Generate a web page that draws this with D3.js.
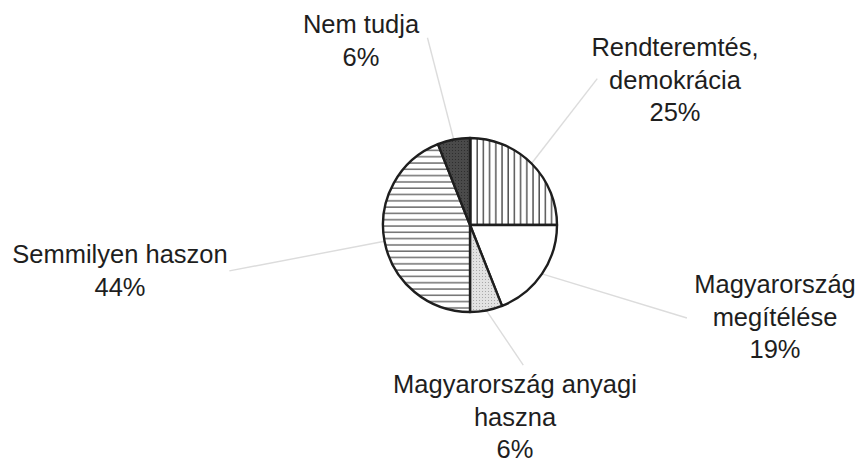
<!DOCTYPE html>
<html>
<head>
<meta charset="utf-8">
<script src="https://cdn.jsdelivr.net/npm/d3@7.9.0/dist/d3.min.js"></script>
<style>
  body { margin: 0; background: #fff; }
  svg { display: block; }
  text { font-family: "Liberation Sans", Arial, sans-serif; font-size: 25.5px; fill: #1e1e1e; }
</style>
</head>
<body>
<svg width="856" height="464"></svg>
<script>
// answers, clockwise from 12 o'clock
const categories = [
  "Rendteremtés, demokrácia",
  "Magyarország megítélése",
  "Magyarország anyagi haszna",
  "Semmilyen haszon",
  "Nem tudja"
];
const values = [25, 19, 6, 44, 6];
const labelLines = [
  ["Rendteremtés,", "demokrácia"],
  ["Magyarország", "megítélése"],
  ["Magyarország anyagi", "haszna"],
  ["Semmilyen haszon"],
  ["Nem tudja"]
];

const width = 856, height = 464;
const cx = 470, cy = 225, radius = 87;
const lineGap = 32.5;

// where each label block sits (center x, first baseline)
const labelPos = [
  { x: 675, y: 56 },
  { x: 775, y: 293 },
  { x: 515, y: 393 },
  { x: 120, y: 263 },
  { x: 361, y: 33 }
];
// leader line: outer radius and angle tweak (degrees)
const leaders = [
  { r: 194, da: -4 },
  { r: 236, da: -11 },
  { r: 150, da: -10 },
  { r: 245, da: 0 },
  { r: 192, da: -2 }
];

const fills = ["url(#vlines)", "#ffffff", "url(#dots)", "url(#hlines)", "url(#dark)"];

const svg = d3.select("svg");
const defs = svg.append("defs");

let vl = defs.append("pattern").attr("id", "vlines")
  .attr("patternUnits", "userSpaceOnUse").attr("width", 6.2).attr("height", 10);
vl.append("rect").attr("width", 6.2).attr("height", 10).attr("fill", "#fff");
vl.append("line").attr("x1", 1).attr("x2", 1).attr("y1", 0).attr("y2", 10)
  .attr("stroke", "#2a2a2a").attr("stroke-width", 1.2);

let hl = defs.append("pattern").attr("id", "hlines")
  .attr("patternUnits", "userSpaceOnUse").attr("width", 10).attr("height", 6.3);
hl.append("rect").attr("width", 10).attr("height", 6.3).attr("fill", "#fff");
hl.append("line").attr("x1", 0).attr("x2", 10).attr("y1", 1).attr("y2", 1)
  .attr("stroke", "#3a3a3a").attr("stroke-width", 1.1);

let dt = defs.append("pattern").attr("id", "dots")
  .attr("patternUnits", "userSpaceOnUse").attr("width", 3).attr("height", 3);
dt.append("rect").attr("width", 3).attr("height", 3).attr("fill", "#e2e2e2");
dt.append("rect").attr("width", 1).attr("height", 1).attr("fill", "#a8a8a8");

let dk = defs.append("pattern").attr("id", "dark")
  .attr("patternUnits", "userSpaceOnUse").attr("width", 3).attr("height", 3);
dk.append("rect").attr("width", 3).attr("height", 3).attr("fill", "#4a4a4a");
dk.append("rect").attr("width", 1).attr("height", 1).attr("fill", "#2e2e2e");

let data = categories.map((c, i) => ({ label: c, value: values[i], idx: i }));

let pie = d3.pie().sort(null).value(d => d.value).startAngle(0).endAngle(2 * Math.PI);
let arcData = pie(data);
let arcGen = d3.arc().innerRadius(0).outerRadius(radius);

let g = svg.append("g").attr("transform", `translate(${cx},${cy})`);

// leader lines
arcData.forEach((d, i) => {
  let mid = (d.startAngle + d.endAngle) / 2;
  let a2 = mid + leaders[i].da * Math.PI / 180;
  g.append("line")
    .attr("x1", Math.sin(mid) * radius)
    .attr("y1", -Math.cos(mid) * radius)
    .attr("x2", Math.sin(a2) * leaders[i].r)
    .attr("y2", -Math.cos(a2) * leaders[i].r)
    .attr("stroke", "#dcdcdc")
    .attr("stroke-width", 1.4);
});

g.selectAll("path.slice")
  .data(arcData)
  .join("path")
  .attr("class", "slice")
  .attr("d", arcGen)
  .attr("fill", d => fills[d.data.idx])
  .attr("stroke", "#1e1e1e")
  .attr("stroke-width", 2.4)
  .attr("stroke-linejoin", "round");

// labels
data.forEach((d, i) => {
  let lines = labelLines[i].concat([d.value + "%"]);
  let t = svg.append("text")
    .attr("text-anchor", "middle")
    .attr("x", labelPos[i].x)
    .attr("y", labelPos[i].y);
  lines.forEach((ln, j) => {
    t.append("tspan")
      .attr("x", labelPos[i].x)
      .attr("dy", j === 0 ? 0 : lineGap)
      .text(ln);
  });
});
</script>
</body>
</html>
